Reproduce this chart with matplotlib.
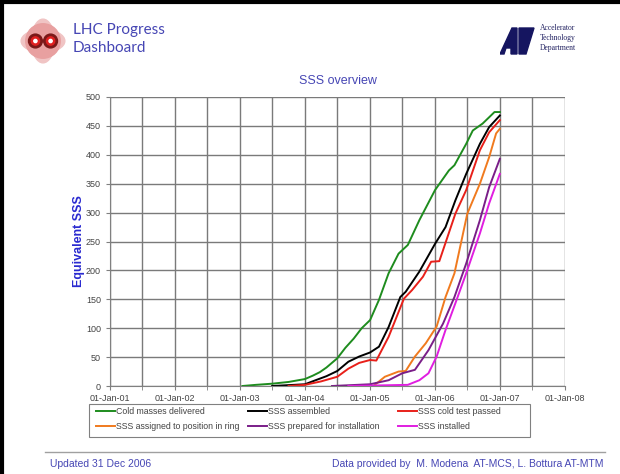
import matplotlib
matplotlib.use("Agg")
import matplotlib.pyplot as plt
import matplotlib.dates as mdates
from matplotlib.patches import Circle, Polygon, Rectangle, Ellipse
import numpy as np

plt.rcParams['font.family'] = ['Liberation Sans', 'DejaVu Sans']

# data (dates, cumulative SSS count)
cold_dates = ['2003-01-15', '2003-04-01', '2003-07-01', '2003-10-01', '2004-01-01', '2004-02-15',
              '2004-03-25', '2004-05-01', '2004-07-01', '2004-08-15', '2004-10-01', '2004-11-15',
              '2005-01-01', '2005-02-20', '2005-04-15', '2005-06-10', '2005-08-01', '2005-10-05',
              '2006-01-01', '2006-03-20', '2006-04-20', '2006-06-25', '2006-08-01', '2006-09-25',
              '2006-11-01', '2006-12-01', '2006-12-31']
cold_vals = [0, 2, 4, 7, 12, 18, 24, 32, 48, 66, 82, 100, 114, 149, 195, 229, 244, 287,
             339, 373, 382, 419, 442, 454, 465, 474, 474]

assembled_dates = ['2003-07-01', '2004-01-01', '2004-03-01', '2004-05-01', '2004-07-01', '2004-09-01',
                   '2004-11-01', '2005-01-01', '2005-02-20', '2005-04-15', '2005-06-20', '2005-07-20',
                   '2005-10-05', '2006-01-01', '2006-03-01', '2006-04-25', '2006-06-25', '2006-09-10',
                   '2006-11-01', '2006-12-31']
assembled_vals = [0, 3, 10, 17, 26, 42, 51, 58, 68, 102, 154, 163, 198, 246, 275, 321, 367, 419,
                  448, 468]

coldtest_dates = ['2003-10-01', '2004-01-01', '2004-04-01', '2004-07-01', '2004-09-01', '2004-11-01',
                  '2005-01-01', '2005-02-05', '2005-04-15', '2005-07-10', '2005-08-25', '2005-10-25',
                  '2005-12-10', '2006-01-25', '2006-04-25', '2006-06-25', '2006-09-10', '2006-11-01',
                  '2006-12-31']
coldtest_vals = [0, 2, 8, 16, 30, 40, 45, 44, 85, 151, 166, 189, 215, 216, 298, 339, 408, 439, 460]

assigned_dates = ['2005-01-20', '2005-03-25', '2005-06-10', '2005-07-20', '2005-09-10', '2005-11-10',
                  '2006-01-10', '2006-03-01', '2006-04-20', '2006-06-15', '2006-07-01', '2006-09-10',
                  '2006-11-01', '2006-12-10', '2006-12-31']
assigned_vals = [0, 16, 25, 26, 51, 74, 103, 154, 195, 275, 298, 350, 396, 437, 445]

prepared_dates = ['2004-06-01', '2005-01-01', '2005-04-15', '2005-07-01', '2005-09-10', '2005-11-25',
                  '2006-02-15', '2006-04-20', '2006-06-25', '2006-09-10', '2006-11-01', '2006-12-31']
prepared_vals = [0, 3, 10, 22, 28, 62, 108, 154, 212, 287, 344, 393]

installed_dates = ['2004-09-01', '2005-08-01', '2005-10-05', '2005-11-25', '2006-01-10', '2006-03-01',
                   '2006-04-25', '2006-06-25', '2006-09-10', '2006-11-01', '2006-12-31']
installed_vals = [0, 2, 10, 22, 51, 97, 143, 195, 264, 316, 367]

series = [
    ('Cold masses delivered', cold_dates, cold_vals, '#1e8c1e'),
    ('SSS assembled', assembled_dates, assembled_vals, '#000000'),
    ('SSS cold test passed', coldtest_dates, coldtest_vals, '#e8201a'),
    ('SSS assigned to position in ring', assigned_dates, assigned_vals, '#f07a1e'),
    ('SSS prepared for installation', prepared_dates, prepared_vals, '#7a1e88'),
    ('SSS installed', installed_dates, installed_vals, '#e01ee0'),
]

blue = '#4646b4'

fig = plt.figure(figsize=(6.2, 4.74), dpi=100)
fig.patch.set_facecolor('white')

ax = fig.add_axes([110/620, 1-386/474, 455/620, 289/474])
lines = []
for name, d, v, c in series:
    ln, = ax.plot(np.array(d, dtype='datetime64[D]'), v, color=c, lw=1.4, label=name)
    lines.append(ln)

ax.set_xlim(np.datetime64('2001-01-01'), np.datetime64('2008-01-01'))
ax.set_ylim(0, 500)
ax.set_yticks(range(0, 501, 50))
ax.xaxis.set_major_locator(mdates.YearLocator())
ax.xaxis.set_minor_locator(mdates.MonthLocator(bymonth=[1, 7]))
ax.xaxis.set_major_formatter(mdates.DateFormatter('%d-%b-%y'))
ax.grid(True, which='both', color='#7a7a7a', lw=1)
ax.set_axisbelow(True)
for s in ['top', 'right']:
    ax.spines[s].set_visible(False)
for s in ['left', 'bottom']:
    ax.spines[s].set_color('#808080')
ax.tick_params(which='both', colors='#808080', labelcolor='#444444', labelsize=6.5, length=3)
ax.tick_params(axis='x', pad=3)
ax.set_title('SSS overview', color=blue, fontsize=9, pad=9)
ax.set_ylabel('Equivalent SSS', color='#2a2ad0', fontsize=9, fontweight='bold', labelpad=1)

# legend: three single-column blocks inside one frame, filled row by row
fig.add_artist(Rectangle((89/620, 1-437/474), 441/620, 33/474, transform=fig.transFigure,
                         facecolor='white', edgecolor='#808080', lw=0.8))
col_x = [96, 248, 398]
for i, x0 in enumerate(col_x):
    hs = [lines[i], lines[i + 3]]
    lg = fig.legend(handles=hs, labels=[h.get_label() for h in hs], loc='upper left',
                    bbox_to_anchor=(x0/620, 1-407/474), fontsize=6.3, frameon=False,
                    handlelength=2.2, handletextpad=0.1, borderpad=0.0, labelspacing=0.7,
                    borderaxespad=0.0)
    for t in lg.get_texts():
        t.set_color('#444444')

# header
fig.text(73/620, 1-30/474, 'LHC Progress', color=blue, fontsize=11, va='center', family='Lato')
fig.text(73/620, 1-48/474, 'Dashboard', color=blue, fontsize=11, va='center', family='Lato')

# left logo (approximation)
lax = fig.add_axes([20/620, 1-64/474, 46/620, 46/474])
lax.set_xlim(-1, 1)
lax.set_ylim(-1, 1)
lax.axis('off')
lax.add_patch(Ellipse((0, 0), 1.0, 1.9, color='#f0c4c4'))
lax.add_patch(Ellipse((0, 0), 1.9, 1.0, color='#f0c4c4'))
lax.add_patch(Circle((0, 0), 0.75, color='#e8a0a0'))
for xc in (-0.33, 0.33):
    lax.add_patch(Circle((xc, 0), 0.3, color='#7a1818'))
    lax.add_patch(Circle((xc, 0), 0.18, color='#e02020'))
    lax.add_patch(Circle((xc, 0), 0.07, color='white'))

# right logo (approximation)
rax = fig.add_axes([500/620, 1-56/474, 36/620, 30/474])
rax.set_xlim(0, 36)
rax.set_ylim(0, 30)
rax.axis('off')
rax.add_patch(Polygon([(0, 2), (12, 28), (17, 28), (17, 2), (11, 2), (11, 8), (6, 8), (4, 2)],
                      closed=True, color='#151560'))
rax.add_patch(Polygon([(19, 28), (34, 28), (26, 2), (19, 2)], closed=True, color='#151560'))
fig.text(540/620, 1-28/474, 'Accelerator', fontsize=5.5, family='Liberation Serif', color='#202060', va='center')
fig.text(540/620, 1-38/474, 'Technology', fontsize=5.5, family='Liberation Serif', color='#202060', va='center')
fig.text(540/620, 1-48/474, 'Department', fontsize=5.5, family='Liberation Serif', color='#202060', va='center')

# footer
fig.add_artist(plt.Line2D([45/620, 605/620], [1-452/474, 1-452/474], color='#a0a0a0', lw=1))
fig.text(50/620, 1-464/474, 'Updated 31 Dec 2006', color=blue, fontsize=7.5, va='center')
fig.text(603/620, 1-464/474, 'Data provided by  M. Modena  AT-MCS, L. Bottura AT-MTM',
         color=blue, fontsize=7.5, va='center', ha='right')

# frame edges of the slide
fig.add_artist(plt.Line2D([0.004, 0.004], [0, 1], color='black', lw=3))
fig.add_artist(plt.Line2D([0, 1], [0.996, 0.996], color='black', lw=3))

fig.savefig('out.png', dpi=100)
